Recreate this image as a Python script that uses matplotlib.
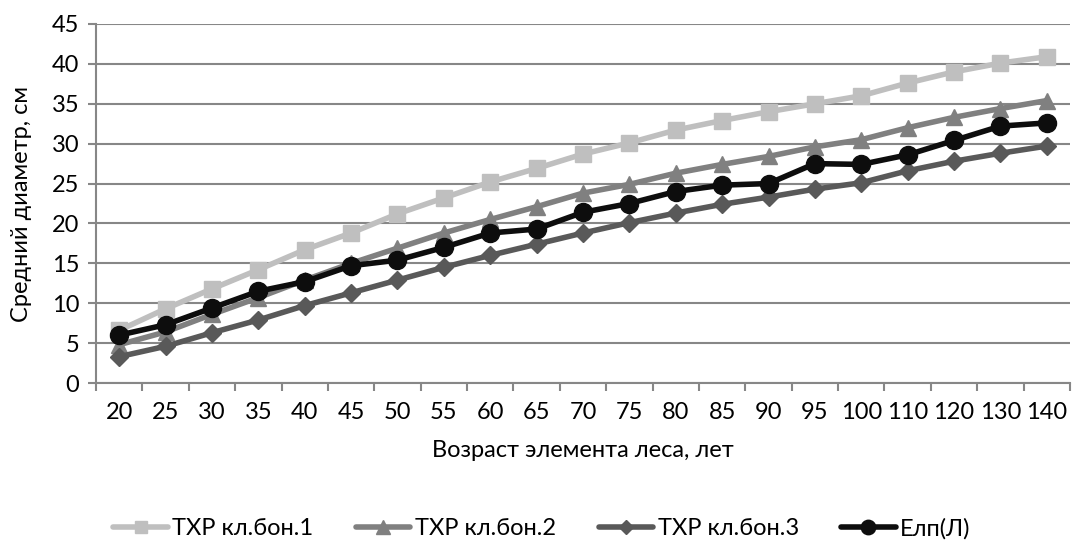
import numpy as np
import matplotlib
matplotlib.use("Agg")
import matplotlib.pyplot as plt

plt.rcParams['font.family'] = ['Lato', 'DejaVu Sans']

ages = ["20", "25", "30", "35", "40", "45", "50", "55", "60", "65", "70",
        "75", "80", "85", "90", "95", "100", "110", "120", "130", "140"]

# средний диаметр по классам бонитета (ТХР) и фактический ряд
txr_1 = [6.6, 9.3, 11.8, 14.2, 16.7, 18.8, 21.2, 23.2, 25.2, 26.9, 28.7,
         30.1, 31.7, 32.9, 34.0, 35.0, 36.0, 37.6, 39.0, 40.1, 40.9]
txr_2 = [4.8, 6.4, 8.6, 10.7, 12.9, 15.0, 16.9, 18.8, 20.5, 22.1, 23.8,
         24.9, 26.3, 27.4, 28.4, 29.6, 30.5, 32.0, 33.3, 34.4, 35.4]
txr_3 = [3.3, 4.6, 6.3, 7.9, 9.7, 11.3, 12.9, 14.5, 16.0, 17.4, 18.8,
         20.1, 21.3, 22.4, 23.3, 24.3, 25.1, 26.6, 27.8, 28.8, 29.7]
elp = [6.0, 7.3, 9.4, 11.5, 12.7, 14.7, 15.4, 17.0, 18.8, 19.3, 21.4,
       22.5, 24.0, 24.8, 25.0, 27.5, 27.4, 28.6, 30.4, 32.2, 32.6]

series = [
    (txr_1, "ТХР кл.бон.1", "#bfbfbf", "s", 11),
    (txr_2, "ТХР кл.бон.2", "#808080", "^", 12),
    (txr_3, "ТХР кл.бон.3", "#595959", "D", 9),
    (elp, "Елп(Л)", "#0d0d0d", "o", 13),
]

fig = plt.figure(figsize=(10.72, 5.41), dpi=100)
ax = fig.add_axes([96 / 1072, 1 - 383 / 541, (1070 - 96) / 1072, (383 - 24) / 541])

x = np.arange(len(ages))
for vals, label, color, marker, ms in series:
    ax.plot(x, vals, color=color, lw=4, marker=marker, ms=ms, label=label,
            solid_capstyle="round", zorder=3)

grid_c = "#878787"
fs = 17
ax.set_ylim(0, 45)
ax.set_yticks(np.arange(0, 46, 5))
ax.yaxis.grid(True, color=grid_c, lw=1.5)
ax.set_axisbelow(True)
ax.set_xlim(-0.5, len(ages) - 0.5)
ax.set_xticks(x)
ax.set_xticklabels(ages)
ax.set_xticks(np.arange(-0.5, len(ages)), minor=True)
ax.tick_params(axis="x", which="major", length=0, pad=14, labelsize=fs)
ax.tick_params(axis="x", which="minor", length=6, color=grid_c, width=1.5)
ax.tick_params(axis="y", length=6, color=grid_c, width=1.5, labelsize=fs, pad=6)
for side in ("top", "right"):
    ax.spines[side].set_visible(False)
for side in ("left", "bottom"):
    ax.spines[side].set_color(grid_c)
    ax.spines[side].set_linewidth(1.5)

ax.set_xlabel("Возраст элемента леса, лет", fontsize=fs, labelpad=12)
ax.set_ylabel("Средний диаметр, см", fontsize=fs, labelpad=14)

ax.legend(loc="center", bbox_to_anchor=(0.458, -0.405), ncol=4,
          frameon=False, fontsize=fs, handlelength=2.3, columnspacing=1.8,
          handletextpad=0.2, markerscale=0.8, borderaxespad=0, borderpad=0)

fig.savefig("out.png", dpi=100)
